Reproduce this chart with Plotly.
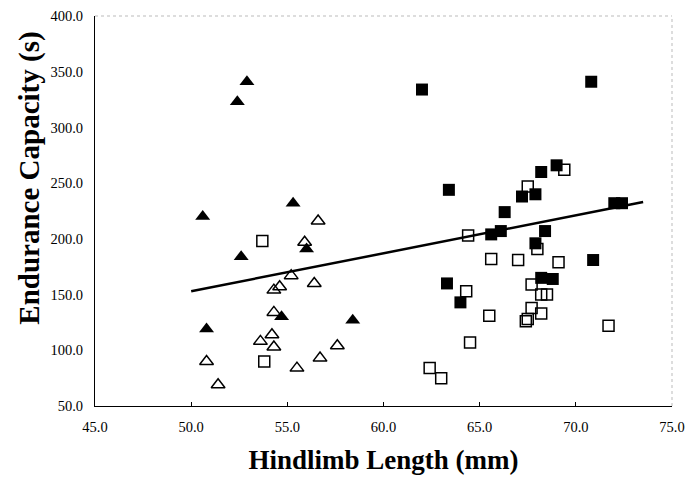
import plotly.graph_objects as go

# Filled triangles
ft_x = [50.6, 52.4, 52.9, 52.6, 50.8, 55.3, 56.0, 54.7, 58.4]
ft_y = [220, 323, 341, 184, 119, 232, 191, 130, 127]

# Open triangles
ot_x = [50.8, 51.4, 53.6, 54.2, 54.3, 54.3, 54.3, 54.6, 55.2, 55.9, 56.6, 56.4, 55.5, 56.7, 57.6]
ot_y = [90, 69, 108, 114, 103, 134, 154, 157, 167, 197, 216, 160, 84, 93, 104]

# Filled squares
fs_x = [62.0, 63.4, 63.3, 64.0, 65.6, 66.1, 66.3, 67.2, 67.9, 68.2, 69.0, 67.9, 68.4, 68.2, 68.8, 70.8, 70.9, 72.0, 72.4]
fs_y = [334, 244, 160, 143, 204, 207, 224, 238, 240, 260, 266, 196, 207, 165, 164, 341, 181, 232, 232]

# Open squares
os_x = [53.7, 53.8, 64.4, 65.6, 67.0, 67.5, 68.0, 69.4, 69.1, 67.7, 68.2, 68.5, 68.2, 67.7, 67.5, 67.4, 65.5, 64.3, 64.5, 62.4, 63.0, 71.7]
os_y = [198, 90, 203, 182, 181, 247, 191, 262, 179, 159, 150, 150, 133, 138, 128, 126, 131, 153, 107, 84, 75, 122]

# Regression line
fit_x = [50.0, 73.5]
fit_y = [153, 233]

x_ticks = [45, 50, 55, 60, 65, 70, 75]
y_ticks = [50, 100, 150, 200, 250, 300, 350, 400]

fig = go.Figure()
fig.add_trace(go.Scatter(x=fit_x, y=fit_y, mode="lines",
                         line=dict(color="black", width=2.5), showlegend=False))
fig.add_trace(go.Scatter(x=ot_x, y=ot_y, mode="markers",
                         marker=dict(symbol="triangle-up-open", size=12, color="black",
                                     line=dict(width=1.5, color="black")), showlegend=False))
fig.add_trace(go.Scatter(x=os_x, y=os_y, mode="markers",
                         marker=dict(symbol="square-open", size=11, color="black",
                                     line=dict(width=1.5, color="black")), showlegend=False))
fig.add_trace(go.Scatter(x=ft_x, y=ft_y, mode="markers",
                         marker=dict(symbol="triangle-up", size=13, color="black"), showlegend=False))
fig.add_trace(go.Scatter(x=fs_x, y=fs_y, mode="markers",
                         marker=dict(symbol="square", size=12, color="black"), showlegend=False))

serif = "Liberation Serif, Times New Roman, serif"
fig.update_layout(
    width=688, height=478,
    margin=dict(l=87, r=24, t=8, b=80),
    paper_bgcolor="white", plot_bgcolor="white",
    font=dict(family=serif, color="black", size=14),
    xaxis=dict(range=[45, 75], tickvals=x_ticks, ticktext=[f"{v:.1f}" for v in x_ticks],
               automargin=False,
               showgrid=False, zeroline=False, showline=True, linecolor="black", linewidth=1,
               ticks="inside", ticklen=4, tickcolor="black", ticklabelstandoff=8,
               tickfont=dict(family=serif, size=14.5),
               title=dict(text="<b>Hindlimb Length (mm)</b>", font=dict(family=serif, size=27), standoff=15)),
    yaxis=dict(range=[50, 400], tickvals=y_ticks, ticktext=[f"{v:.1f}" for v in y_ticks],
               automargin=False,
               showgrid=False, zeroline=False, showline=True, linecolor="black", linewidth=1,
               ticks="", ticklabelstandoff=8,
               tickfont=dict(family=serif, size=14.5)),
    annotations=[
        dict(text="<b>Endurance Capacity (s)</b>", xref="paper", yref="paper",
             x=-0.113, y=0.585, xanchor="center", yanchor="middle", textangle=-90,
             showarrow=False, font=dict(family=serif, size=29, color="black")),
    ],
    shapes=[
        dict(type="line", xref="paper", yref="paper", x0=0, x1=1, y0=1, y1=1,
             line=dict(color="#bbbbbb", width=1, dash="dot")),
        dict(type="line", xref="paper", yref="paper", x0=1, x1=1, y0=0, y1=1,
             line=dict(color="#bbbbbb", width=1, dash="dot")),
    ],
)

fig.write_html("out.html")
